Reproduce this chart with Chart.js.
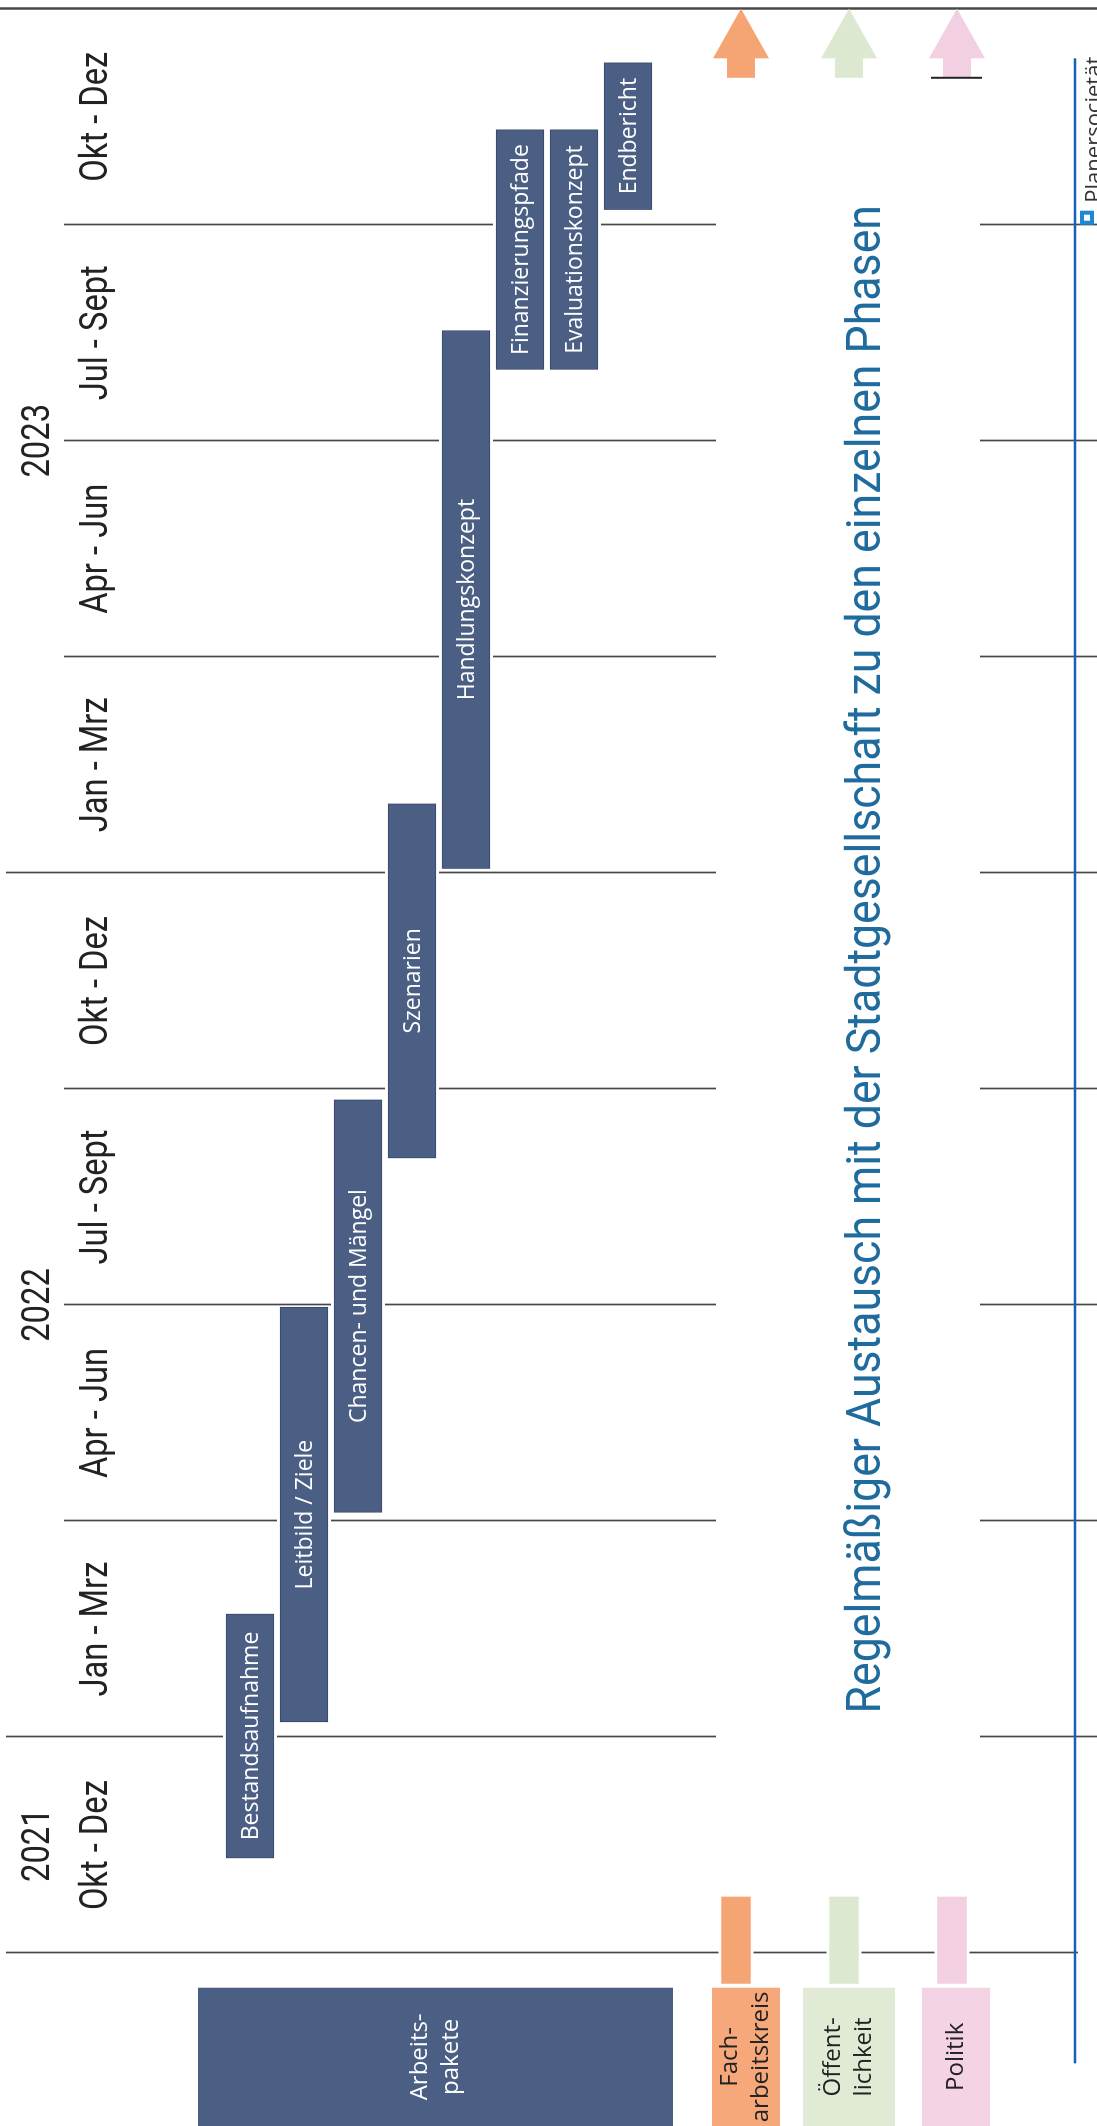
<!DOCTYPE html>
<html>
<head>
<meta charset="utf-8">
<script src="https://cdn.jsdelivr.net/npm/chart.js@4.4.1/dist/chart.umd.min.js"></script>
<style>
  html, body { margin: 0; padding: 0; background: #fff; }
  #wrap { position: relative; width: 1097px; height: 2126px; overflow: hidden; }
  /* the chart is drawn as a landscape gantt and turned a quarter to the left */
  #chart { position: absolute; left: 0; top: 0; width: 2126px; height: 1097px;
           transform-origin: 0 0; transform: translate(0, 2126px) rotate(-90deg); }
</style>
</head>
<body>
<div id="wrap"><canvas id="chart" width="2126" height="1097"></canvas></div>
<script>
// time axis is counted in quarters, 0 = start of Okt 2021
const quarterLabels = ['Okt - Dez', 'Jan - Mrz', 'Apr - Jun', 'Jul - Sept', 'Okt - Dez',
                       'Jan - Mrz', 'Apr - Jun', 'Jul - Sept', 'Okt - Dez'];
const yearLabels = ['2021', '2022', '2023'];
const yearCenters = [0.5, 3, 7];
const yearStarts = [1, 5];

const taskNames = ['Bestandsaufnahme', 'Leitbild / Ziele', 'Chancen- und Mängel', 'Szenarien',
                   'Handlungskonzept', 'Finanzierungspfade', 'Evaluationskonzept', 'Endbericht'];
const taskStart = [0.44, 1.07, 2.04, 3.68, 5.02, 7.33, 7.33, 8.07];
const taskEnd   = [1.57, 2.99, 3.95, 5.32, 7.51, 8.44, 8.44, 8.75];

const groupNames = ['Fach-arbeitskreis', 'Öffent-lichkeit', 'Politik'];
const groupStart = [-0.14, -0.14, -0.14];
const groupEnd   = [0.26, 0.26, 0.26];
const arrowSpan  = [8.68, 8.77, 9.0];   // shaft start, head base, tip

const title = 'Regelmäßiger Austausch mit der Stadtgesellschaft zu den einzelnen Phasen';

const barColor = '#4b5f84';
const groupColors = ['#f5a473', '#dce8cf', '#f2cfe1'];
const boxColors = ['#f6a87a', '#e0ead4', '#f4d3e4'];
const labelFont = "Roboto, 'Noto Sans', sans-serif";

// rows of the gantt (spacers keep the gaps between the blocks)
const rows = ['s0', 's1', ...taskNames, 's2', groupNames[0], 's3', groupNames[1], 's4', groupNames[2], 's5', 's6'];
const taskData = rows.map(r => {
    const i = taskNames.indexOf(r);
    return i < 0 ? null : [taskStart[i], taskEnd[i]];
});
const groupData = rows.map(r => {
    const i = groupNames.indexOf(r);
    return i < 0 ? null : [groupStart[i], groupEnd[i]];
});

// narrow lettering like the DIN style of the original
function narrowText(ctx, text, u, v, squeeze) {
    ctx.save();
    ctx.translate(u, v);
    ctx.scale(squeeze, 1);
    ctx.fillText(text, 0, 0);
    ctx.restore();
}

const overlay = {
    id: 'overlay',
    beforeDatasetsDraw(chart) {
        const { ctx, scales: { x } } = chart;
        ctx.save();
        ctx.strokeStyle = '#474747';
        for (let q = 0; q <= quarterLabels.length; q++) {
            const u = Math.round(x.getPixelForValue(q)) + 0.5;
            let segs;
            if (q === 0) segs = [[6, 1078]];
            else if (q === quarterLabels.length) segs = [[0, 1097]];
            else segs = [[yearStarts.includes(q) ? 6 : 64, 716], [980, 1097]];
            ctx.lineWidth = q === quarterLabels.length ? 2.5 : 1.7;
            segs.forEach(([a, b]) => {
                ctx.beginPath();
                ctx.moveTo(u, a);
                ctx.lineTo(u, b);
                ctx.stroke();
            });
        }
        // small white gap where the lines run behind the bars
        ctx.fillStyle = '#fff';
        chart.data.datasets.forEach((ds, i) => {
            chart.getDatasetMeta(i).data.forEach((bar, j) => {
                if (ds.data[j] == null) return;
                const { x: bx, y: by, base, height } = bar.getProps(['x', 'y', 'base', 'height'], true);
                ctx.fillRect(Math.min(bx, base), by - height / 2 - 3, Math.abs(bx - base), height + 6);
            });
        });
        ctx.restore();
    },
    afterDatasetsDraw(chart) {
        const { ctx, scales: { x, y, years } } = chart;
        ctx.save();
        ctx.textAlign = 'center';
        ctx.textBaseline = 'middle';

        // quarter and year ticks
        ctx.fillStyle = '#222';
        ctx.font = '38px ' + labelFont;
        x.ticks.forEach((t, i) => narrowText(ctx, quarterLabels[i], x.getPixelForValue(t.value), 97, 0.86));
        ctx.font = '39px ' + labelFont;
        years.ticks.forEach((t, i) => narrowText(ctx, yearLabels[i], years.getPixelForValue(t.value), 39, 0.84));

        // labels inside the work package bars
        ctx.fillStyle = '#fff';
        ctx.font = "23px 'Open Sans', sans-serif";
        chart.getDatasetMeta(0).data.forEach((bar, j) => {
            if (taskData[j] == null) return;
            const { x: bx, y: by, base } = bar.getProps(['x', 'y', 'base'], true);
            ctx.fillText(rows[j], (bx + base) / 2, by + 1);
        });

        // row label boxes at the start of the time line
        const u0 = x.getPixelForValue(x.min);
        const u1 = x.getPixelForValue(-0.16);
        const first = y.getPixelForValue(rows.indexOf(taskNames[0]));
        const last = y.getPixelForValue(rows.indexOf(taskNames[taskNames.length - 1]));
        const boxes = [
            { lines: ['Arbeits-', 'pakete'], from: first - 52, to: last + 45, fill: barColor, text: '#fff' }
        ];
        const boxEdges = [[-24, 44], [-41, 51], [-30, 38]];
        groupNames.forEach((g, i) => {
            const c = y.getPixelForValue(rows.indexOf(g));
            boxes.push({ lines: g.includes('-') ? [g.split('-')[0] + '-', g.split('-')[1]] : [g],
                         from: c + boxEdges[i][0], to: c + boxEdges[i][1], fill: boxColors[i], text: '#222' });
        });
        boxes.forEach(b => {
            ctx.fillStyle = b.fill;
            ctx.fillRect(u0, b.from, u1 - u0, b.to - b.from);
            ctx.fillStyle = b.text;
            ctx.font = "24px 'Open Sans', sans-serif";
            const mid = (b.from + b.to) / 2;
            const lh = 31;
            b.lines.forEach((t, k) => {
                ctx.fillText(t, (u0 + u1) / 2, mid + (k - (b.lines.length - 1) / 2) * lh);
            });
        });

        // arrows: exchange continues to the end
        const a0 = x.getPixelForValue(arrowSpan[0]);
        const a1 = x.getPixelForValue(arrowSpan[1]);
        const a2 = x.getPixelForValue(arrowSpan[2]);
        groupNames.forEach((g, i) => {
            const c = y.getPixelForValue(rows.indexOf(g)) + 5;
            ctx.fillStyle = groupColors[i];
            ctx.beginPath();
            ctx.moveTo(a0, c - 14);
            ctx.lineTo(a1, c - 14);
            ctx.lineTo(a1, c - 28);
            ctx.lineTo(a2, c);
            ctx.lineTo(a1, c + 28);
            ctx.lineTo(a1, c + 14);
            ctx.lineTo(a0, c + 14);
            ctx.closePath();
            ctx.fill();
            if (i === groupNames.length - 1) {
                ctx.strokeStyle = '#222';
                ctx.lineWidth = 2;
                ctx.beginPath();
                ctx.moveTo(a0, c - 26);
                ctx.lineTo(a0, c + 25);
                ctx.stroke();
            }
        });

        // title between the row markers and the arrows
        ctx.fillStyle = '#1f6b9e';
        ctx.font = '48px ' + labelFont;
        narrowText(ctx, title, x.getPixelForValue(4.6), 868, 0.93);

        // blue frame line and cut off source note
        ctx.strokeStyle = '#1a5fb4';
        ctx.lineWidth = 2.5;
        ctx.beginPath();
        ctx.moveTo(x.getPixelForValue(-0.51), 1075);
        ctx.lineTo(x.getPixelForValue(8.77), 1075);
        ctx.stroke();
        const pu = x.getPixelForValue(8.0);
        ctx.fillStyle = '#1e88d8';
        ctx.fillRect(pu, 1080, 14, 14);
        ctx.fillStyle = '#fff';
        ctx.fillRect(pu + 4, 1084, 6, 6);
        ctx.fillStyle = '#333';
        ctx.textAlign = 'left';
        ctx.textBaseline = 'alphabetic';
        ctx.font = "22px 'Open Sans', sans-serif";
        ctx.fillText('Planersocietät', pu + 22, 1101);
        ctx.restore();
    }
};

new Chart(document.getElementById('chart'), {
    type: 'bar',
    data: {
        labels: rows,
        datasets: [{
            data: taskData,
            backgroundColor: barColor,
            borderColor: '#34476a',
            borderWidth: 1,
            borderSkipped: false,
            barThickness: 48,
            grouped: false
        }, {
            data: groupData,
            backgroundColor: rows.map(r => groupColors[groupNames.indexOf(r)] || 'transparent'),
            borderWidth: 0,
            barThickness: 29,
            grouped: false
        }]
    },
    options: {
        indexAxis: 'y',
        responsive: false,
        animation: false,
        layout: { padding: { left: 0, right: 0, top: 0, bottom: 10 } },
        plugins: { legend: { display: false }, tooltip: { enabled: false } },
        scales: {
            x: {
                type: 'linear',
                position: 'top',
                min: -0.8,
                max: 9.04,
                grid: { display: false },
                border: { display: false },
                afterBuildTicks: s => { s.ticks = quarterLabels.map((_, i) => ({ value: i + 0.5 })); },
                afterFit: s => { s.height = 49; },
                ticks: { display: false, autoSkip: false }
            },
            years: {
                type: 'linear',
                axis: 'x',
                position: 'top',
                weight: 1,
                min: -0.8,
                max: 9.04,
                grid: { display: false },
                border: { display: false },
                afterBuildTicks: s => { s.ticks = yearCenters.map(v => ({ value: v })); },
                afterFit: s => { s.height = 66; },
                ticks: { display: false, autoSkip: false }
            },
            y: {
                type: 'category',
                display: false
            }
        }
    },
    plugins: [overlay]
});
</script>
</body>
</html>
